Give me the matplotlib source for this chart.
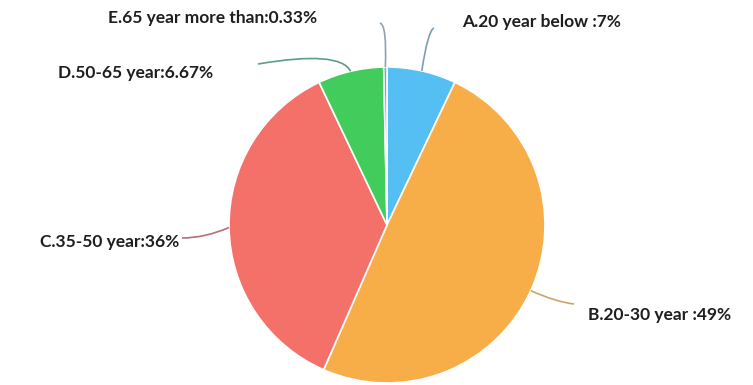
import numpy as np
import matplotlib.pyplot as plt
from matplotlib.path import Path
from matplotlib.patches import PathPatch

plt.rcParams['font.family'] = ['Lato', 'DejaVu Sans']

labels = ['A.20 year below :7%', 'B.20-30 year :49%', 'C.35-50 year:36%',
          'D.50-65 year:6.67%', 'E.65 year more than:0.33%']
shares = [7, 49, 36, 6.67, 0.33]
colors = ['#55bff3', '#f8ae48', '#f4716a', '#42cc5c', '#6fa8c8']
line_colors = ['#7a9fb5', '#c8a66a', '#b56e78', '#5d9e84', '#8da2b5']

# label text anchors (left edge, centre line) and leader end / control points, in pixels
text_xy = [(462, 22), (588, 315), (40, 242), (58, 73), (108, 18)]
line_end = [(434, 28), (574, 304), (182, 238), (258, 64), (380, 23)]
line_ctrl = [(428, 30), (556, 302), (205, 238), (340, 50), (387, 25)]

W, H = 753, 385
cx, cy, r = 387, 225, 158

fig = plt.figure(figsize=(W / 100, H / 100), dpi=100)
ax = fig.add_axes([0, 0, 1, 1])

wedges, _ = ax.pie(shares, colors=colors, startangle=90, counterclock=False,
                   center=(cx, H - cy), radius=r,
                   wedgeprops=dict(edgecolor='white', linewidth=1.2))
# pie() resets the limits, so put the pixel frame back afterwards
ax.set_xlim(0, W)
ax.set_ylim(0, H)
ax.set_aspect('auto')
ax.axis('off')

for w, lab, txy, end, ctrl, lc in zip(wedges, labels, text_xy, line_end, line_ctrl, line_colors):
    ang = np.deg2rad((w.theta1 + w.theta2) / 2)
    sx = cx + r * np.cos(ang)
    sy = (H - cy) + r * np.sin(ang)
    verts = [(sx, sy), (ctrl[0], H - ctrl[1]), (end[0], H - end[1])]
    path = Path(verts, [Path.MOVETO, Path.CURVE3, Path.CURVE3])
    ax.add_patch(PathPatch(path, fill=False, edgecolor=lc, linewidth=1.2))
    ax.text(txy[0], H - txy[1], lab, ha='left', va='center',
            fontsize=12.5, fontweight='bold', color='#1e1e1e')

fig.savefig('out.png', dpi=100)
